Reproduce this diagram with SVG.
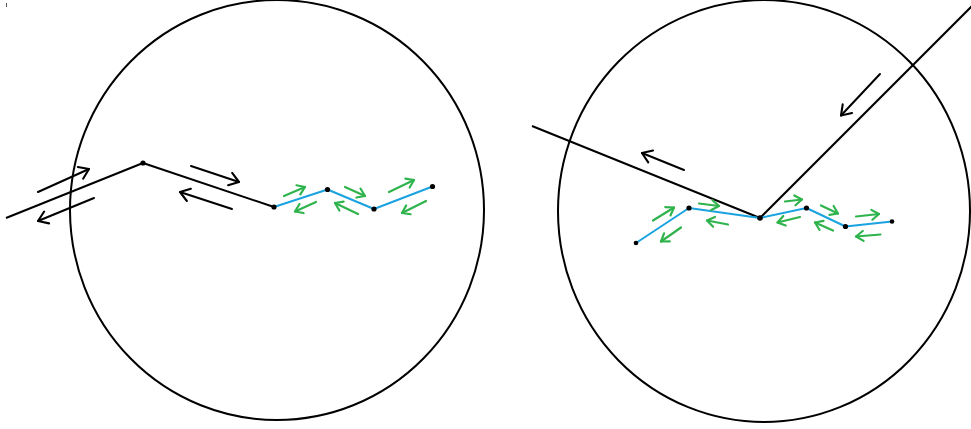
<svg xmlns="http://www.w3.org/2000/svg" width="971" height="429" viewBox="0 0 971 429">
<style>
.circ{fill:none;stroke:#000;stroke-width:2}
.blk{fill:none;stroke:#000;stroke-width:2;stroke-linejoin:round}
.blu{fill:none;stroke:#1aa3e0;stroke-width:2;stroke-linejoin:round}
.ga{fill:none;stroke:#2fb34c;stroke-width:2.2;stroke-linecap:round;marker-end:url(#mg)}
.ba{fill:none;stroke:#000;stroke-width:2;stroke-linecap:round;marker-end:url(#mb)}
.dot{fill:#000}
</style>
<defs>
<marker id="mg" markerUnits="userSpaceOnUse" viewBox="0 0 10 12" refX="9" refY="6" markerWidth="9" markerHeight="11" orient="auto" overflow="visible">
<path d="M1,0.5 L9,6 L1,11.5" fill="none" stroke="#2fb34c" stroke-width="2.4" stroke-linecap="round" stroke-linejoin="round"/>
</marker>
<marker id="mb" markerUnits="userSpaceOnUse" viewBox="0 0 10 12" refX="9" refY="6" markerWidth="12" markerHeight="14" orient="auto" overflow="visible">
<path d="M1,0.5 L9,6 L1,11.5" fill="none" stroke="#000" stroke-width="1.8" stroke-linecap="round" stroke-linejoin="round"/>
</marker>
</defs>
<line x1="6.5" y1="3" x2="6.5" y2="7" stroke="#555" stroke-width="1"/>
<g id="left-circle"><ellipse class="circ" cx="277" cy="210" rx="207" ry="210"/></g>
<g id="right-circle"><ellipse class="circ" cx="764" cy="211" rx="206" ry="211"/></g>
<g id="connectors">
<polyline class="blk" points="6,218 143,163 274,207"/>
<polyline class="blu" points="274,207 327.5,189.5 374,209 432.5,186.5"/>
<polyline class="blk" points="532,126 760,218 972,6"/>
<polyline class="blu" points="636,243 689,208 760,218 806.5,208 845.5,226.5 892,221.5"/>
<line class="ba" x1="38" y1="192" x2="89" y2="169"/>
<line class="ba" x1="94" y1="198" x2="38" y2="221"/>
<line class="ba" x1="191" y1="166" x2="239" y2="182"/>
<line class="ba" x1="232" y1="209" x2="180" y2="192"/>
<line class="ba" x1="684" y1="170" x2="642" y2="153"/>
<line class="ba" x1="880" y1="74" x2="841" y2="115.5"/>
<line class="ga" x1="284" y1="196" x2="305" y2="187"/>
<line class="ga" x1="316" y1="202" x2="295" y2="211.5"/>
<line class="ga" x1="345" y1="187" x2="365" y2="196"/>
<line class="ga" x1="358" y1="214" x2="335" y2="203"/>
<line class="ga" x1="389" y1="192" x2="414" y2="180"/>
<line class="ga" x1="426" y1="201" x2="402" y2="213"/>
<line class="ga" x1="653" y1="220.5" x2="674" y2="207.5"/>
<line class="ga" x1="681" y1="227.5" x2="661" y2="241.5"/>
<line class="ga" x1="699" y1="203.5" x2="719" y2="206"/>
<line class="ga" x1="728" y1="224.5" x2="707" y2="220.5"/>
<line class="ga" x1="785" y1="201.5" x2="802" y2="199.5"/>
<line class="ga" x1="800" y1="217" x2="777.5" y2="222.5"/>
<line class="ga" x1="821" y1="205.5" x2="838" y2="213.5"/>
<line class="ga" x1="833" y1="230.5" x2="815" y2="222.5"/>
<line class="ga" x1="856" y1="216.5" x2="879" y2="214"/>
<line class="ga" x1="880.5" y1="234.5" x2="856" y2="236.5"/>
</g>
<g id="nodes">
<circle class="dot" cx="143" cy="163" r="2.6"/>
<circle class="dot" cx="274" cy="207" r="2.6"/>
<circle class="dot" cx="327.5" cy="189.5" r="2.6"/>
<circle class="dot" cx="374" cy="209" r="2.6"/>
<circle class="dot" cx="432.5" cy="186.5" r="2.6"/>
<circle class="dot" cx="636" cy="243" r="2.3"/>
<circle class="dot" cx="689" cy="208" r="2.6"/>
<circle class="dot" cx="760" cy="218" r="2.8"/>
<circle class="dot" cx="806.5" cy="208" r="2.6"/>
<circle class="dot" cx="845.5" cy="226.5" r="2.6"/>
<circle class="dot" cx="892" cy="221.5" r="2.3"/>
</g>
</svg>
